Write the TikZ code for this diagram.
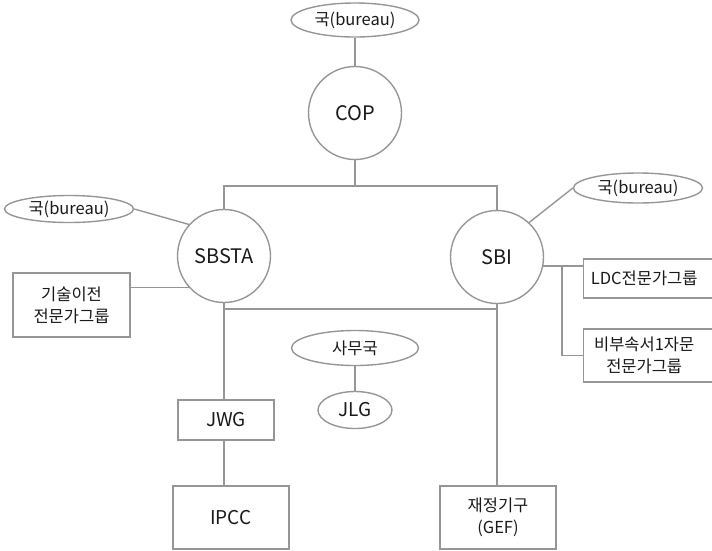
\documentclass[tikz,border=0pt]{standalone}
\usepackage{fontspec}
\setmainfont{Noto Sans CJK KR}
\usetikzlibrary{shapes.geometric}
\definecolor{lc}{RGB}{150,150,150}
\definecolor{tc}{RGB}{25,25,25}
\tikzset{
  lines/.style={draw=lc, line width=1.4pt},
  circ/.style={circle, lines, minimum size=93pt, inner sep=0pt, text=tc, font=\fontsize{20}{22}\selectfont},
  oval/.style={ellipse, lines, inner sep=0pt, text=tc, font=\fontsize{16.5}{19}\selectfont},
  boxn/.style={rectangle, lines, inner sep=0pt, align=center, text=tc, font=\fontsize{16.5}{22}\selectfont},
  boxl/.style={boxn, font=\fontsize{19}{22}\selectfont},
  conn/.style={draw=lc, line width=1.4pt}
}
\begin{document}
\begin{tikzpicture}[x=1pt, y=-1pt]
\useasboundingbox (0,0) rectangle (712,550);
% nodes
\node[oval, minimum width=128pt, minimum height=34pt] (b1) at (355,20) {국(bureau)};
\node[circ] (cop) at (355,113) {COP};
\node[circ] (sbsta) at (224,256) {SBSTA};
\node[circ] (sbi) at (497,257) {SBI};
\node[oval, minimum width=129pt, minimum height=27pt] (b2) at (69,209) {국(bureau)};
\node[oval, minimum width=129pt, minimum height=30pt] (b3) at (638,188) {국(bureau)};
\node[boxn, minimum width=117pt, minimum height=64pt] (tt) at (71.5,305) {기술이전\\전문가그룹};
\node[boxn, minimum width=133pt, minimum height=39pt, anchor=west] (ldc) at (583,278.5) {\hspace*{-6pt}LDC전문가그룹\hspace*{6pt}};
\node[boxn, minimum width=133pt, minimum height=53pt, anchor=west] (nab) at (583,355.5) {\hspace*{-6pt}비부속서1자문\hspace*{6pt}\\\hspace*{-6pt}전문가그룹\hspace*{6pt}};
\node[oval, minimum width=127pt, minimum height=35pt] (sec) at (355,348) {사무국};
\node[oval, minimum width=74pt, minimum height=37pt, font=\fontsize{19}{22}\selectfont] (jlg) at (355,410) {JLG};
\node[boxl, minimum width=96pt, minimum height=40pt] (jwg) at (226,420) {JWG};
\node[boxl, minimum width=116pt, minimum height=63pt] (ipcc) at (231,517.5) {IPCC};
\node[boxn, minimum width=116pt, minimum height=63pt] (gef) at (498,517.5) {재정기구\\(GEF)};
% coordinates
\coordinate (bus1) at (355,186);
\coordinate (bus2) at (355,309);
\coordinate (br) at (562,266);
% connectors
\draw[conn] (b1) -- (cop);
\draw[conn] (cop) -- (bus1);
\draw[conn] (sbsta.north) -- (sbsta.north |- bus1) -- (sbi.north |- bus1) -- (sbi.north);
\draw[conn] (sbsta.south |- bus2) -- (sbi.south |- bus2);
\draw[conn] (sbsta.south) -- (sbsta.south |- jwg.north);
\draw[conn] (sbsta.south |- jwg.south) -- (sbsta.south |- ipcc.north);
\draw[conn] (sbi.south) -- (sbi.south |- gef.north);
\draw[conn] (b2.east) -- (sbsta.138);
\draw[conn] (b3.west) -- (sbi.47);
\draw[conn] (sbsta.222) -- (sbsta.222 -| tt.east);
\draw[conn] (sbi.-11) -- (sbi.-11 -| ldc.west);
\draw[conn] (br) |- (nab.west);
\draw[conn] (sec) -- (jlg);
\end{tikzpicture}
\end{document}
